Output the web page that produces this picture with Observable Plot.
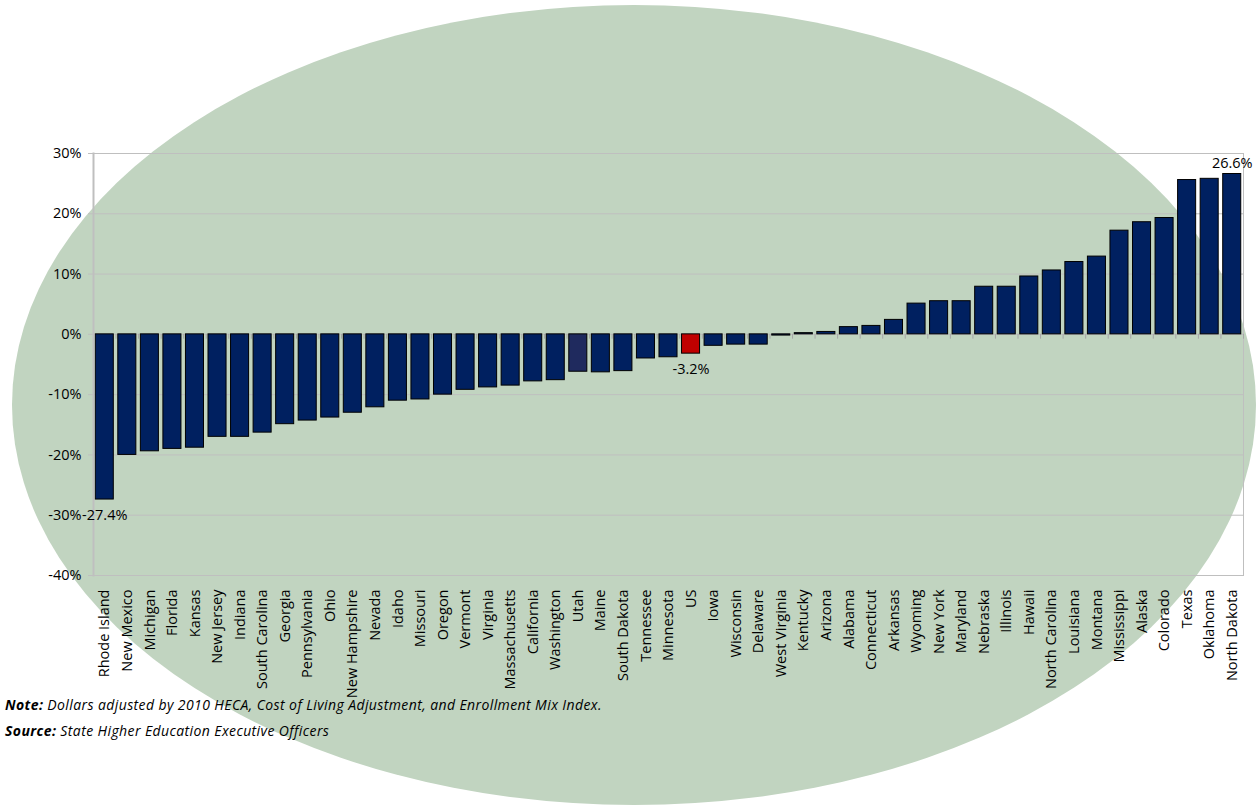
<!DOCTYPE html>
<html><head><meta charset="utf-8">
<script src="https://cdn.jsdelivr.net/npm/d3@7"></script>
<script src="https://cdn.jsdelivr.net/npm/@observablehq/plot@0.6"></script>
<style>
body{margin:0;background:#fff;}
#wrap{position:relative;width:1259px;height:810px;overflow:hidden;font-family:"Open Sans",Lato,sans-serif;}
#ell{position:absolute;left:12px;top:5px;width:1244px;height:800px;border-radius:50%;background:#c1d4c0;}
#chart{position:absolute;left:0;top:0;}
.note{position:absolute;left:5px;font-style:italic;font-size:14px;line-height:19px;color:#000;white-space:nowrap;letter-spacing:0.4px;}
</style></head>
<body>
<div id="wrap">
  <div id="ell"></div>
  <div id="chart"></div>
  <div class="note" style="top:695px"><b>Note:</b> Dollars adjusted by 2010 HECA, Cost of Living Adjustment, and Enrollment Mix Index.</div>
  <div class="note" style="top:721px"><b>Source:</b> State Higher Education Executive Officers</div>
</div>
<script>
const states = ["Rhode Island","New Mexico","Michigan","Florida","Kansas","New Jersey","Indiana","South Carolina","Georgia","Pennsylvania","Ohio","New Hampshire","Nevada","Idaho","Missouri","Oregon","Vermont","Virginia","Massachusetts","California","Washington","Utah","Maine","South Dakota","Tennessee","Minnesota","US","Iowa","Wisconsin","Delaware","West Virginia","Kentucky","Arizona","Alabama","Connecticut","Arkansas","Wyoming","New York","Maryland","Nebraska","Illinois","Hawaii","North Carolina","Louisiana","Montana","Mississippi","Alaska","Colorado","Texas","Oklahoma","North Dakota"];
const changes = [-27.4,-20.0,-19.4,-19.0,-18.8,-17.0,-17.0,-16.3,-14.9,-14.3,-13.8,-13.0,-12.1,-11.0,-10.8,-10.0,-9.2,-8.8,-8.5,-7.8,-7.6,-6.2,-6.3,-6.1,-4.0,-3.8,-3.2,-1.9,-1.7,-1.7,-0.2,0.2,0.4,1.2,1.4,2.4,5.1,5.5,5.5,7.9,7.9,9.6,10.6,12.0,12.9,17.2,18.6,19.3,25.6,25.8,26.6];
const yTicks = [-40,-30,-20,-10,0,10,20,30];
const labeled = ["Rhode Island","US","North Dakota"];

const data = states.map((s,i)=>({state:s, value:changes[i]}));
const W = 1259, H = 810, mL = 93, mR = 16, mT = 153, mB = 235;
const step = (W - mL - mR) / states.length;
const fillFor = d => d.state === "US" ? "#c00000" : d.state === "Utah" ? "#1f2a5e" : "#002060";

const chart = Plot.plot({
  width: W, height: H,
  marginLeft: mL, marginRight: mR, marginTop: mT, marginBottom: mB,
  style: {background: "transparent", fontFamily: "'Open Sans', Lato, sans-serif", color: "#000"},
  x: {type: "band", domain: states, paddingInner: 0.2, paddingOuter: 0.1, round: false},
  y: {domain: [-40, 30]},
  marks: [
    Plot.gridY(yTicks, {stroke: "#bfbfbf", strokeOpacity: 1}),
    Plot.frame({stroke: "#bfbfbf"}),
    Plot.ruleX(states, {x: d => d, y1: 0, y2: -0.8, dx: step/2, stroke: "#a6a6a6"}),
    Plot.barY(data, {x: "state", y: "value", fill: fillFor, stroke: "#000", strokeWidth: 1}),
    Plot.frame({anchor: "left", stroke: "#bfbfbf", strokeWidth: 2}),
    Plot.axisY(yTicks, {tickSize: 5, tickPadding: 7, stroke: "#bfbfbf", tickFormat: d => d + "%", fontSize: 14.5, label: null}),
    Plot.axisX({tickRotate: -90, tickSize: 0, tickPadding: 14, fontSize: 14.5, label: null}),
    Plot.text(data.filter(d => labeled.includes(d.state) && d.value < 0), {x: "state", y: "value", text: d => d.value.toFixed(1) + "%", lineAnchor: "top", dy: 10, fontSize: 14.5, fill: "#000"}),
    Plot.text(data.filter(d => labeled.includes(d.state) && d.value > 0), {x: "state", y: "value", text: d => d.value.toFixed(1) + "%", lineAnchor: "bottom", dy: -6, fontSize: 14.5, fill: "#000"})
  ]
});
document.getElementById("chart").appendChild(chart);
</script>
</body></html>
